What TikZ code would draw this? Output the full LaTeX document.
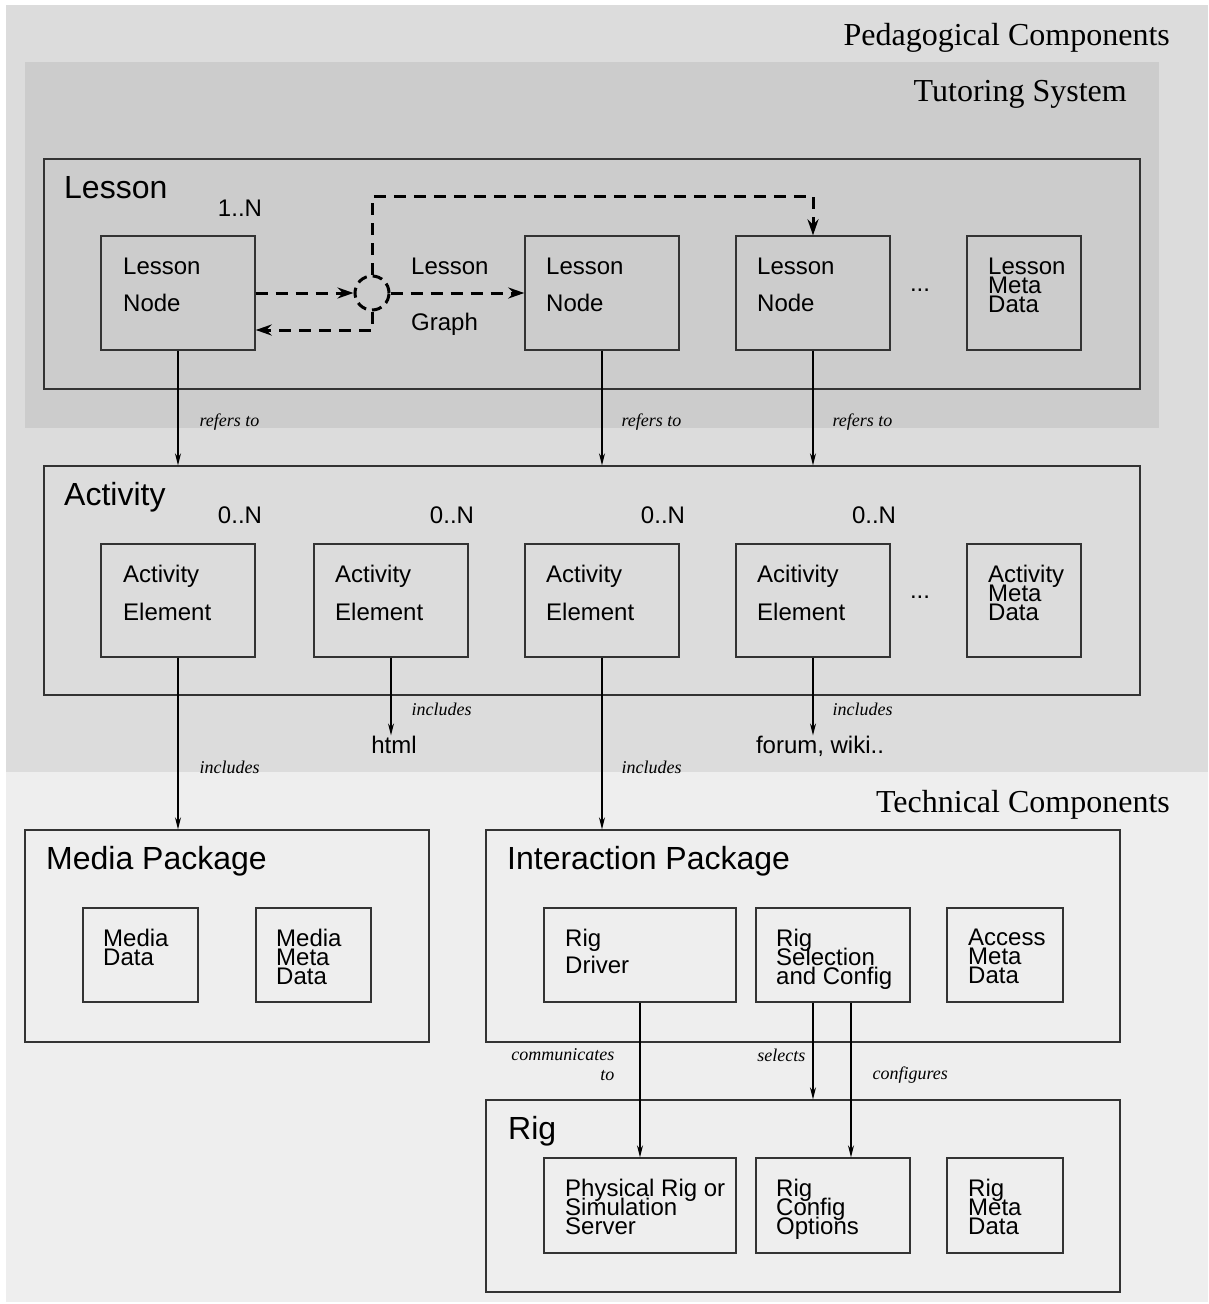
\documentclass[tikz,border=0pt]{standalone}
\usepackage{fontspec}
\setmainfont{Liberation Serif}
\setsansfont{Liberation Sans}
\usetikzlibrary{arrows.meta,positioning}
\definecolor{pedbg}{HTML}{DCDCDC}
\definecolor{tutbg}{HTML}{CCCCCC}
\definecolor{techbg}{HTML}{EEEEEE}
\newcommand{\bx}{\sffamily\fontsize{24}{19}\selectfont\lineskiplimit=-50pt\lineskip=0pt}

\begin{document}
\begin{tikzpicture}[x=1pt,y=-1pt,
    frame/.style={draw=black!80,line width=1.4pt,inner sep=0pt},
    btxt/.style={anchor=north west,inner sep=0pt,align=left,font=\bx},
    title/.style={anchor=base west,inner sep=0pt,font=\sffamily\fontsize{32}{38}\selectfont},
    area/.style={anchor=base east,inner sep=0pt,font=\rmfamily\fontsize{32}{38}\selectfont},
    card/.style={inner sep=0pt,font=\sffamily\fontsize{24}{28}\selectfont},
    rel/.style={inner sep=0pt,align=right,font=\rmfamily\itshape\fontsize{18}{20}\selectfont},
    link/.style={line width=1.2pt,-{Stealth[length=12pt,width=6pt]}},
    dlink/.style={line width=3pt,dash pattern=on 12pt off 8pt,-{Stealth[length=16pt,width=11pt]}}]

    \useasboundingbox (0,0) rectangle (1208,1304);
    \fill[white] (0,0) rectangle (1208,1304);
    \fill[pedbg] (6,5) rectangle (1208,772);
    \fill[techbg] (6,772) rectangle (1208,1302);
    \fill[tutbg] (25,62) rectangle (1159,428);

    \node[area] (ped) at (1170,45) {Pedagogical Components};
    \node[area] (tut) at (1127,101) {Tutoring System};
    \node[area] (tech) at (1170,812) {Technical Components};

    % lesson
    \node[frame,minimum width=1096pt,minimum height=230pt] (less) at (592,274) {};
    \node[title] (lessT) at (64,198) {Lesson};
    \node[card] (c1) at (240,208) {1..N};
    \node[frame,minimum width=154pt,minimum height=114pt] (ln1) at (178,293) {};
    \node[frame,minimum width=154pt,minimum height=114pt] (ln2) at (602,293) {};
    \node[frame,minimum width=154pt,minimum height=114pt] (ln3) at (813,293) {};
    \node[frame,minimum width=114pt,minimum height=114pt] (lmeta) at (1024,293) {};
    \node[btxt] (ln1T) at (123,258) {Lesson\\[18pt]Node};
    \node[btxt] (ln2T) at (546,258) {Lesson\\[18pt]Node};
    \node[btxt] (ln3T) at (757,258) {Lesson\\[18pt]Node};
    \node[btxt] (lmetaT) at (988,258) {Lesson\\Meta\\Data};
    \node[card] (ldots) at (920,290) {...};
    \node[circle,draw,line width=3pt,dash pattern=on 10pt off 6pt,minimum size=34pt,inner sep=0pt] (lg) at (372,293) {};
    \node[btxt] (lgT) at (411,258) {Lesson\\[37pt]Graph};

    \draw[dlink] (ln1.east) -- (lg.west);
    \draw[dlink] (lg.east) -- (ln2.west);
    \draw[dlink] (lg.north) |- ([yshift=39pt]ln3.north) -- (ln3.north);
    \draw[dlink] (lg.south) |- ([yshift=-37pt]ln1.east);

    % activity
    \node[frame,minimum width=1096pt,minimum height=229pt] (act) at (592,580.5) {};
    \node[title] (actT) at (64,505) {Activity};
    \node[card] (c2) at (240,515) {0..N};
    \node[card] (c3) at (452,515) {0..N};
    \node[card] (c4) at (663,515) {0..N};
    \node[card] (c5) at (874,515) {0..N};
    \node[frame,minimum width=154pt,minimum height=113pt] (ae1) at (178,600.5) {};
    \node[frame,minimum width=154pt,minimum height=113pt] (ae2) at (391,600.5) {};
    \node[frame,minimum width=154pt,minimum height=113pt] (ae3) at (602,600.5) {};
    \node[frame,minimum width=154pt,minimum height=113pt] (ae4) at (813,600.5) {};
    \node[frame,minimum width=114pt,minimum height=113pt] (ameta) at (1024,600.5) {};
    \node[btxt] (ae1T) at (123,565) {Activity\\[19pt]Element};
    \node[btxt] (ae2T) at (335,565) {Activity\\[19pt]Element};
    \node[btxt] (ae3T) at (546,565) {Activity\\[19pt]Element};
    \node[btxt] (ae4T) at (757,565) {Acitivity\\[19pt]Element};
    \node[btxt] (ametaT) at (988,565) {Activity\\Meta\\Data};
    \node[card] (adots) at (920,597) {...};

    \node[card,anchor=base] (html) at (394,753) {html};
    \node[card,anchor=base] (forum) at (820,753) {forum, wiki..};

    \draw[link] (ln1.south) -- (ln1.south |- act.north) node[rel,pos=.62,anchor=west,xshift=21pt] {refers to};
    \draw[link] (ln2.south) -- (ln2.south |- act.north) node[rel,pos=.62,anchor=west,xshift=19pt] {refers to};
    \draw[link] (ln3.south) -- (ln3.south |- act.north) node[rel,pos=.62,anchor=west,xshift=19pt] {refers to};
    \draw[link] (ae2.south) -- (ae2.south |- html.north) node[rel,pos=.67,anchor=west,xshift=20pt] {includes};
    \draw[link] (ae4.south) -- (ae4.south |- forum.north) node[rel,pos=.67,anchor=west,xshift=19pt] {includes};

    % technical side
    \node[frame,minimum width=404pt,minimum height=212pt] (media) at (227,936) {};
    \node[title] (mediaT) at (46,869) {Media Package};
    \node[frame,minimum width=115pt,minimum height=94pt] (md) at (140.5,955) {};
    \node[frame,minimum width=115pt,minimum height=94pt] (mmd) at (313.5,955) {};
    \node[btxt] (mdT) at (103,929) {Media\\Data};
    \node[btxt] (mmdT) at (276,929) {Media\\Meta\\Data};

    \node[frame,minimum width=634pt,minimum height=212pt] (inter) at (803,936) {};
    \node[title] (interT) at (507,869) {Interaction Package};
    \node[frame,minimum width=192pt,minimum height=94pt] (rd) at (640,955) {};
    \node[frame,minimum width=154pt,minimum height=94pt] (rs) at (833,955) {};
    \node[frame,minimum width=116pt,minimum height=94pt] (amd) at (1005,955) {};
    \node[btxt] (rdT) at (565,929) {Rig\\[8pt]Driver};
    \node[btxt] (rsT) at (776,929) {Rig\\Selection\\and Config};
    \node[btxt] (amdT) at (968,929) {Access\\Meta\\Data};

    \node[frame,minimum width=634pt,minimum height=192pt] (rig) at (803,1196) {};
    \node[title] (rigT) at (508,1139) {Rig};
    \node[frame,minimum width=192pt,minimum height=95pt] (phys) at (640,1205.5) {};
    \node[frame,minimum width=154pt,minimum height=95pt] (rcfg) at (833,1205.5) {};
    \node[frame,minimum width=116pt,minimum height=95pt] (rmeta) at (1005,1205.5) {};
    \node[btxt] (physT) at (565,1179) {Physical Rig or\\Simulation\\Server};
    \node[btxt] (rcfgT) at (776,1179) {Rig\\Config\\Options};
    \node[btxt] (rmetaT) at (968,1179) {Rig\\Meta\\Data};

    \draw[link] (ae1.south) -- (ae1.south |- media.north) node[rel,pos=.64,anchor=west,xshift=21pt] {includes};
    \draw[link] (ae3.south) -- (ae3.south |- inter.north) node[rel,pos=.64,anchor=west,xshift=19pt] {includes};
    \draw[link] (rd.south) -- (rd.south |- phys.north) node[rel,pos=.4,anchor=east,xshift=-25pt] {communicates\\to};
    \draw[link] ([xshift=-20pt]rs.south) -- ([xshift=-20pt]rs.south |- rig.north) node[rel,pos=.54,anchor=east,xshift=-7pt] {selects};
    \draw[link] ([xshift=18pt]rs.south) -- ([xshift=18pt]rs.south |- rcfg.north) node[rel,pos=.47,anchor=west,xshift=21pt] {configures};
\end{tikzpicture}
\end{document}
